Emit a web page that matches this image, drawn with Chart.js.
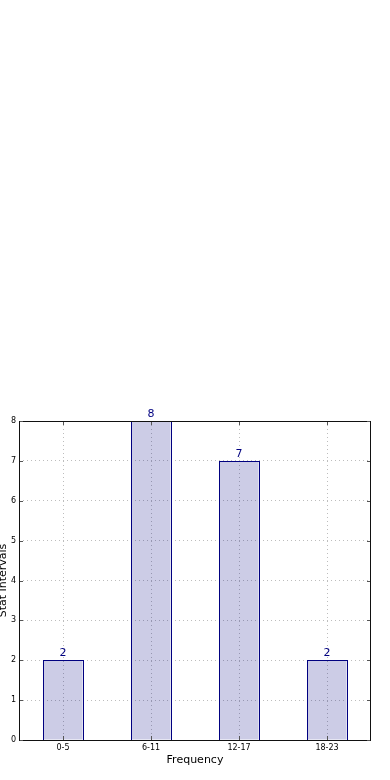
<!DOCTYPE html>
<html>
<head>
<meta charset="utf-8">
<script src="https://cdn.jsdelivr.net/npm/chart.js@4/dist/chart.umd.min.js"></script>
<style>
  html, body { margin: 0; padding: 0; background: #fff; }
  #wrap { width: 390px; height: 780px; }
</style>
</head>
<body>
<div id="wrap"><canvas id="chart" width="390" height="780"></canvas></div>
<script>
// data
const intervals = ['0-5', '6-11', '12-17', '18-23'];
const counts = [2, 8, 7, 2];
const yTicks = [0, 1, 2, 3, 4, 5, 6, 7, 8];

const FONT = 'DejaVu Sans, sans-serif';
const NAVY = '#000080';
const GRID = '#bdbdbd';

// crisp navy outline + the numbers above each bar
const barLabels = {
  id: 'barLabels',
  afterDatasetsDraw(chart) {
    const ctx = chart.ctx;
    const meta = chart.getDatasetMeta(0);
    ctx.save();
    ctx.strokeStyle = NAVY;
    ctx.lineWidth = 1;
    meta.data.forEach(bar => {
      const l = Math.round(bar.x - bar.width / 2), r = Math.round(bar.x + bar.width / 2);
      const t = Math.round(bar.y), b = Math.round(bar.base);
      ctx.strokeRect(l + 0.5, t + 0.5, r - l, b - t);
    });
    ctx.fillStyle = NAVY;
    ctx.font = '11px ' + FONT;
    ctx.textAlign = 'center';
    ctx.textBaseline = 'alphabetic';
    meta.data.forEach((bar, i) => {
      ctx.fillText(String(counts[i]), bar.x, bar.y - 4);
    });
    ctx.restore();
  }
};

// black frame round the plot and the small inward ticks
const frame = {
  id: 'frame',
  afterDraw(chart) {
    const { ctx, chartArea: a, scales } = chart;
    ctx.save();
    ctx.strokeStyle = '#111';
    ctx.lineWidth = 1;
    ctx.strokeRect(a.left + 0.5, a.top + 0.5, a.right - a.left - 1, a.bottom - a.top);
    ctx.strokeStyle = '#555';
    ctx.beginPath();
    scales.x.ticks.forEach((t, i) => {
      const x = Math.round(scales.x.getPixelForTick(i)) + 0.5;
      ctx.moveTo(x, a.bottom); ctx.lineTo(x, a.bottom - 4);
      ctx.moveTo(x, a.top + 1); ctx.lineTo(x, a.top + 4);
    });
    yTicks.forEach(v => {
      const y = Math.round(scales.y.getPixelForValue(v)) + 0.5;
      ctx.moveTo(a.left + 1, y); ctx.lineTo(a.left + 4, y);
      ctx.moveTo(a.right - 1, y); ctx.lineTo(a.right - 4, y);
    });
    ctx.stroke();
    ctx.restore();
  }
};

new Chart(document.getElementById('chart').getContext('2d'), {
  type: 'bar',
  data: {
    labels: intervals,
    datasets: [{
      data: counts,
      backgroundColor: 'rgba(0, 0, 128, 0.2)',
      borderWidth: 0,
      inflateAmount: 0,
      barPercentage: 0.445,
      categoryPercentage: 1
    }]
  },
  options: {
    responsive: false,
    animation: false,
    events: [],
    layout: { padding: { top: 421, right: 19, bottom: 0, left: 0 } },
    plugins: {
      legend: { display: false },
      tooltip: { enabled: false }
    },
    scales: {
      x: {
        z: 1,
        offset: true,
        afterFit(s) { s.height = 40; },
        grid: { offset: false, color: GRID, lineWidth: 1, drawTicks: false, tickLength: 0 },
        border: { display: false, dash: [1, 3] },
        ticks: { color: '#000', font: { family: FONT, size: 8 }, padding: 3 },
        title: {
          display: true, text: 'Frequency', color: '#000',
          font: { family: FONT, size: 11 }, padding: { top: 0, bottom: 13 }
        }
      },
      y: {
        z: 1,
        min: 0, max: 8,
        afterFit(s) { s.width = 19; },
        afterBuildTicks(s) { s.ticks = yTicks.map(v => ({ value: v })); },
        grid: { color: GRID, lineWidth: 1, drawTicks: false, tickLength: 0 },
        border: { display: false, dash: [1, 3] },
        ticks: { color: '#000', font: { family: FONT, size: 8 }, padding: 3 },
        title: {
          display: true, text: 'Stat Intervals', color: '#000',
          font: { family: FONT, size: 11 }, padding: { top: -3, bottom: 0 }
        }
      }
    }
  },
  plugins: [barLabels, frame]
});
</script>
</body>
</html>
